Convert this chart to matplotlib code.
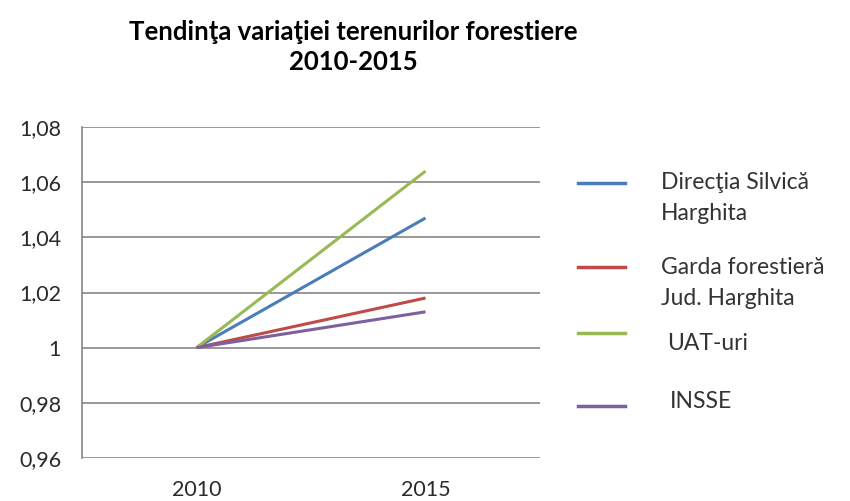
import matplotlib
matplotlib.use("Agg")
import matplotlib.pyplot as plt
from matplotlib.lines import Line2D

years = ["2010", "2015"]
series_names = ["Direcţia Silvică\nHarghita", "Garda forestieră\nJud. Harghita", "UAT-uri", "INSSE"]
directia = [1.0, 1.047]
garda = [1.0, 1.018]
uat = [1.0, 1.064]
insse = [1.0, 1.013]
y_ticks = [0.96, 0.98, 1.00, 1.02, 1.04, 1.06, 1.08]
y_labels = ["0,96", "0,98", "1", "1,02", "1,04", "1,06", "1,08"]
colors = ["#4A7EBB", "#BE4B48", "#98B954", "#7D60A0"]

plt.rcParams['font.family'] = ['Lato', 'DejaVu Sans']

fig = plt.figure(figsize=(8.5, 5.01), dpi=100)
ax = fig.add_axes([82/850, 1-458/501, (540-82)/850, (458-127)/501])

x = [0, 1]
all_series = [directia, garda, uat, insse]
for vals, c in zip(all_series, colors):
    ax.plot(x, vals, color=c, lw=2.2, solid_capstyle='butt')

ax.set_xlim(-0.5, 1.5)
ax.set_ylim(0.96, 1.08)
ax.set_yticks(y_ticks)
ax.set_yticklabels(y_labels, fontsize=15.5, color="#2a2a2a")
ax.set_xticks(x)
ax.set_xticklabels(years, fontsize=15.5, color="#2a2a2a")
ax.tick_params(axis='y', length=0, pad=15)
ax.tick_params(axis='x', length=0, pad=16)
for s in ["top", "right", "bottom"]:
    ax.spines[s].set_visible(False)
ax.spines["left"].set_color("#868686")
ax.spines["left"].set_linewidth(1.2)
ax.grid(axis='y', color="#868686", lw=1.2)
ax.set_axisbelow(True)

fig.text(353/850, 1-32/501, "Tendinţa variaţiei terenurilor forestiere", ha='center', va='center',
         fontsize=18.5, fontweight='bold')
fig.text(353/850, 1-62/501, "2010-2015", ha='center', va='center', fontsize=18.5, fontweight='bold')

# legend
line_y = [183, 267, 333, 406]
text_y = [198, 283, 344, 402]
text_x = [661, 661, 667, 670]
for name, c, ly, ty, tx in zip(series_names, colors, line_y, text_y, text_x):
    fig.add_artist(Line2D([578/850, 625/850], [1-ly/501, 1-ly/501], color=c, lw=2.5,
                          transform=fig.transFigure))
    fig.text(tx/850, 1-ty/501, name, ha='left', va='center', fontsize=16.5, color="#333333",
             linespacing=1.55)

fig.savefig("out.png", dpi=100, facecolor="white")
